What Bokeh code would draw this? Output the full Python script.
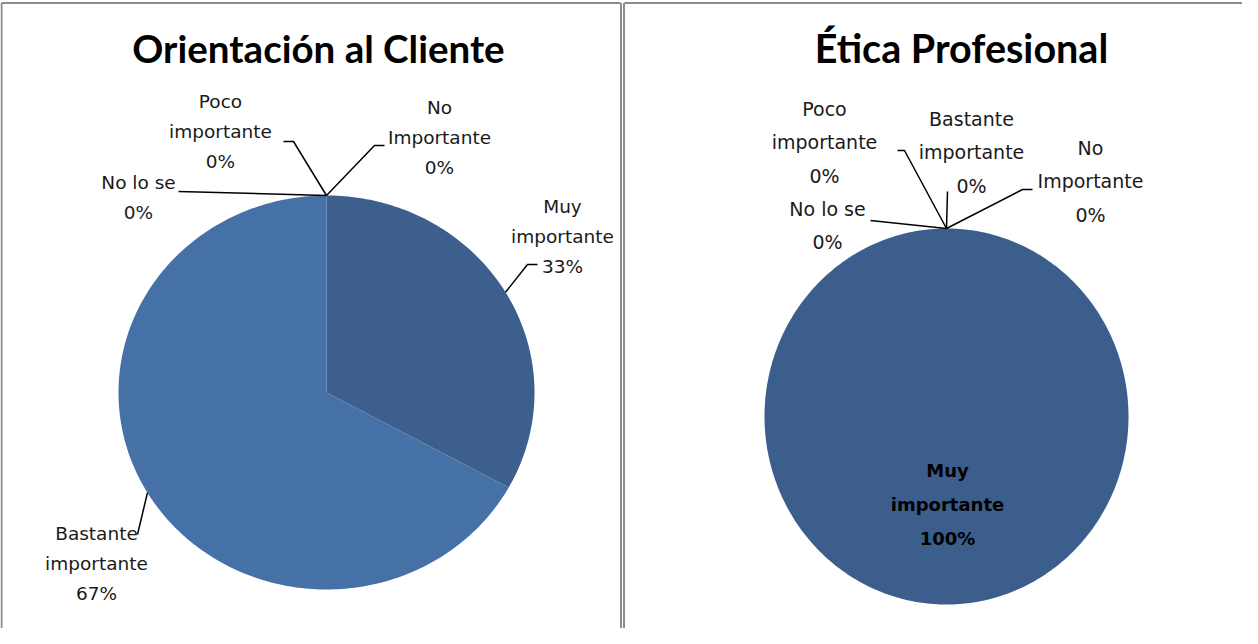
import math
from bokeh.plotting import figure
from bokeh.models import Range1d
from bokeh.core.properties import value
from bokeh.embed import file_html
from bokeh.resources import INLINE

# ---------------- data ----------------
categories = ["Muy importante", "Bastante importante", "Poco importante", "No Importante", "No lo se"]
wrapped_names = ["Muy\nimportante", "Bastante\nimportante", "Poco\nimportante", "No\nImportante", "No lo se"]
orientacion_values = [33, 67, 0, 0, 0]
etica_values = [100, 0, 0, 0, 0]
chart_titles = ["Orientación al Cliente", "Ética Profesional"]

# ---------------- layout ----------------
W, H = 1242, 628
OX, OY = 8, 8  # page margin


def Y(ry):
    return (OY + H) - ry


LABEL_FONT = "DejaVu Sans"
TITLE_FONT = "Lato"

charts = [
    dict(values=orientacion_values, title=chart_titles[0], title_pos=(326, 55),
         center=(334, 400), rx=208, ry=197,
         colors=["#3C5F8D", "#4571A7", "#4571A7", "#4571A7", "#4571A7"],
         font="18.5px", line_h=1.43, title_size="38.5px",
         labels=[((570, 244), [(535, 272), (545, 272)], False),
                 ((104, 571), [(145, 542)], False),
                 ((228, 139), [(301, 149), (291, 149)], False),
                 ((447, 145), [(382, 153), (392, 153)], False),
                 ((146, 205), [(186, 199)], False)]),
    dict(values=etica_values, title=chart_titles[1], title_pos=(969, 55),
         center=(954, 424), rx=182, ry=188,
         colors=["#3B5E8C"] * 5,
         font="19px", line_h=1.53, title_size="39.5px",
         labels=[((955, 512), [], True),
                 ((979, 160), [(955, 199)], False),
                 ((832, 150), [(912, 158), (905, 158)], False),
                 ((1098, 189), [(1030, 197), (1040, 197)], False),
                 ((835, 233), [(878, 228)], False)]),
]

p = figure(width=W, height=H, x_range=Range1d(OX, OX + W), y_range=Range1d(0, H),
           output_backend="svg", toolbar_location=None, min_border=0)
p.axis.visible = False
p.grid.visible = False
p.outline_line_color = None
p.background_fill_color = "white"
p.border_fill_color = "white"

# panel frames
p.multi_line(xs=[[OX + 1, 628], [628.5, 628.5], [631.5, 631.5], [632, OX + W], [OX + 1, OX + 1]],
             ys=[[Y(10.5), Y(10.5)], [Y(10.5), Y(OY + H)], [Y(10.5), Y(OY + H)],
                 [Y(10.5), Y(10.5)], [Y(10.5), Y(OY + H)]],
             line_color="#8C8C8C", line_width=2)

for ch in charts:
    vals = ch["values"]
    total = float(sum(vals))
    cx, cy = ch["center"]
    rx, ry = ch["rx"], ch["ry"]
    # Excel pies start at 12 o'clock and go clockwise
    cum = 0.0
    pxs, pys, cols = [], [], []
    anchors = []
    for i, v in enumerate(vals):
        a0 = cum / total * 2 * math.pi
        cum += v
        a1 = cum / total * 2 * math.pi
        mid = (a0 + a1) / 2
        anchors.append((cx + rx * math.sin(mid), Y(cy - ry * math.cos(mid))))
        if v <= 0:
            continue
        n = max(4, int((a1 - a0) / (2 * math.pi) * 360))
        xs = [] if v == total else [cx]
        ys = [] if v == total else [Y(cy)]
        for k in range(n + 1):
            a = a0 + (a1 - a0) * k / n
            xs.append(cx + rx * math.sin(a))
            ys.append(Y(cy - ry * math.cos(a)))
        pxs.append(xs)
        pys.append(ys)
        cols.append(ch["colors"][i])
    p.patches(xs=pxs, ys=pys, fill_color=cols, line_color=None)

    # leader lines and labels
    lxs, lys = [], []
    tx, ty, tt = [], [], []
    bx, by, bt = [], [], []
    for i, v in enumerate(vals):
        (lx, ly), elbow, inside = ch["labels"][i]
        pct = round(100.0 * v / total)
        txt = f"{wrapped_names[i]}\n{pct}%"
        if inside:
            bx.append(lx); by.append(Y(ly)); bt.append(txt)
            continue
        tx.append(lx); ty.append(Y(ly)); tt.append(txt)
        ax, ay = anchors[i]
        lxs.append([ax] + [e[0] for e in elbow])
        lys.append([ay] + [Y(e[1]) for e in elbow])
    p.multi_line(xs=lxs, ys=lys, line_color="black", line_width=1.5)
    p.text(x=tx, y=ty, text=tt, text_align="center", text_baseline="middle",
           text_font=value(LABEL_FONT), text_font_size=ch["font"], text_color="#1a1a1a",
           text_line_height=ch["line_h"])
    if bt:
        p.text(x=bx, y=by, text=bt, text_align="center", text_baseline="middle",
               text_font=value(LABEL_FONT), text_font_size="18px", text_font_style="bold",
               text_color="black", text_line_height=1.6)
    tpx, tpy = ch["title_pos"]
    p.text(x=[tpx], y=[Y(tpy)], text=[ch["title"]], text_align="center", text_baseline="middle",
           text_font=value(TITLE_FONT), text_font_size=ch["title_size"], text_font_style="bold",
           text_color="black")

open("out.html", "w").write(file_html(p, INLINE))
